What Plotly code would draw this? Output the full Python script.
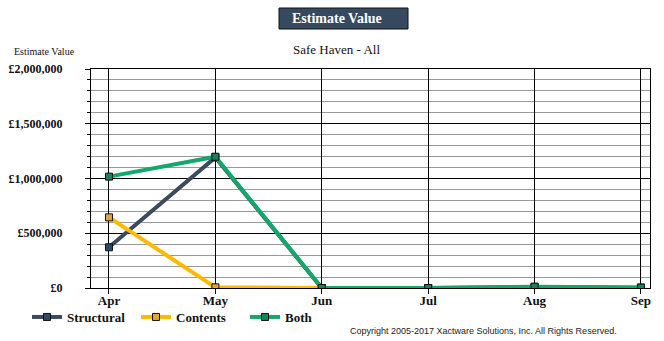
import plotly.graph_objects as go

months = ["Apr", "May", "Jun", "Jul", "Aug", "Sep"]
structural = [372000, 1193000, 0, 0, 10000, 3000]
contents = [645000, 6000, 0, 0, 2000, 1000]
both = [1017000, 1199000, 0, 0, 12000, 4000]
y_ticks = [0, 500000, 1000000, 1500000, 2000000]
y_tick_labels = ["£0", "£500,000", "£1,000,000", "£1,500,000", "£2,000,000"]

SERIF = "Liberation Serif, Times New Roman, serif"

series = [
    ("Structural", structural, "#3b4b5d", "#2d4a6b"),
    ("Contents", contents, "#ffb900", "#e9a23b"),
    ("Both", both, "#12a86b", "#1f7f5c"),
]

# plot area in pixels (for placing decorations)
L, R, T, B = 91, 650, 69, 288
W, H = R - L, B - T


def px(xp):
    return (xp - L) / W


def py(yp):
    return (B - yp) / H


fig = go.Figure()
for name, vals, lc, mc in series:
    fig.add_trace(go.Scatter(
        x=months, y=vals, name=name, mode="lines+markers",
        line=dict(color=lc, width=4),
        marker=dict(symbol="square", size=7, color=mc,
                    line=dict(color="#111", width=1)),
    ))

fig.update_layout(
    width=664, height=341,
    margin=dict(l=L, r=664 - R, t=T, b=341 - B, autoexpand=False),
    paper_bgcolor="white", plot_bgcolor="white",
    font=dict(family=SERIF, color="#111"),
    showlegend=True,
    legend=dict(
        orientation="h", xref="container", yref="container",
        x=27 / 664, y=1 - 317 / 341, xanchor="left", yanchor="middle",
        entrywidth=64, entrywidthmode="pixels",
        font=dict(family=SERIF, size=13, color="#111", weight="bold"),
        bgcolor="rgba(0,0,0,0)", itemclick=False,
    ),
    xaxis=dict(
        type="category", range=[-0.169, 5.085],
        showgrid=True, gridcolor="#000", gridwidth=1,
        showline=True, linecolor="#000", linewidth=1, mirror=True,
        ticks="outside", ticklen=5, tickcolor="#000",
        ticklabelstandoff=-5,
        tickfont=dict(family=SERIF, size=13, color="#111", weight="bold"),
        zeroline=False,
    ),
    yaxis=dict(
        range=[0, 2000000], tickvals=y_ticks, ticktext=y_tick_labels,
        showgrid=True, gridcolor="#000", gridwidth=1,
        showline=True, linecolor="#000", linewidth=1, mirror=True,
        ticks="outside", ticklen=5, tickcolor="#000",
        ticklabelstandoff=20,
        tickfont=dict(family=SERIF, size=12, color="#111", weight="bold"),
        minor=dict(tickvals=list(range(100000, 2000000, 100000)),
                   ticks="outside", ticklen=3, tickcolor="#000",
                   showgrid=True, gridcolor="#999", gridwidth=1),
        zeroline=False,
    ),
    shapes=[
        dict(type="rect", xref="paper", yref="paper",
             x0=px(279), x1=px(408), y0=py(29), y1=py(8),
             fillcolor="#354a5f", line=dict(color="#111", width=1), layer="above"),
    ],
    annotations=[
        dict(text="<b>Estimate Value</b>", xref="paper", yref="paper",
             x=px(290), y=py(18.5),
             xanchor="left", yanchor="middle", showarrow=False,
             font=dict(family=SERIF, size=14, color="white")),
        dict(text="Safe Haven - All", xref="paper", yref="paper",
             x=px(336.5), y=py(49),
             xanchor="center", yanchor="middle", showarrow=False,
             font=dict(family=SERIF, size=13, color="#111")),
        dict(text="Estimate Value", xref="paper", yref="paper",
             x=px(44), y=py(51.5),
             xanchor="center", yanchor="middle", showarrow=False,
             font=dict(family=SERIF, size=10, color="#111")),
        dict(text="Copyright 2005-2017 Xactware Solutions, Inc. All Rights Reserved.",
             xref="paper", yref="paper",
             x=px(483.5), y=py(331),
             xanchor="center", yanchor="middle", showarrow=False,
             font=dict(family="Liberation Sans, Arial, sans-serif", size=9, color="#222")),
    ],
)

fig.write_html("out.html")
